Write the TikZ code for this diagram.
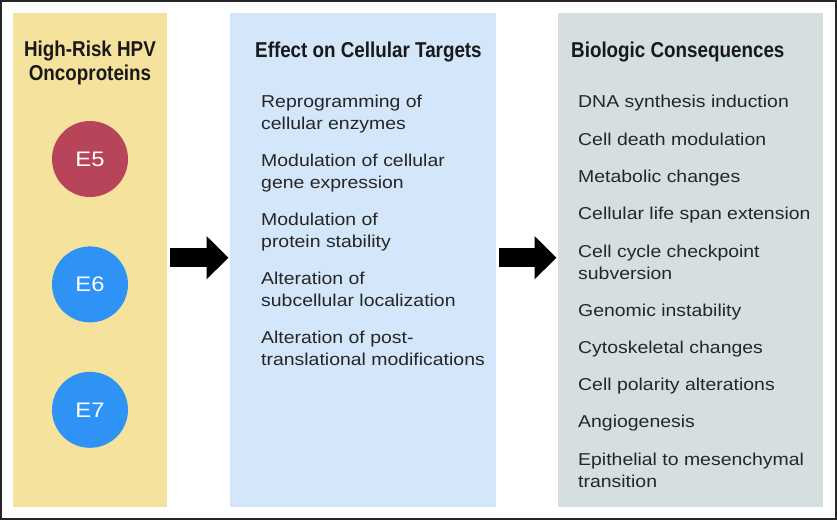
\documentclass[tikz,border=0pt]{standalone}
\usepackage{fontspec}
\setmainfont{Liberation Sans}
\newfontfamily\headfont{Liberation Sans Bold}[FakeStretch=0.875]
\newfontfamily\bodyfont{Liberation Sans}[FakeStretch=1.13]
\usetikzlibrary{arrows.meta}
\usetikzlibrary{positioning}
\definecolor{hpvyellow}{HTML}{F5E29C}
\definecolor{targetblue}{HTML}{D3E6FA}
\definecolor{biogray}{HTML}{D5DFE0}
\definecolor{esred}{HTML}{B8445A}
\definecolor{esblue}{HTML}{2F93F6}
\tikzstyle{panel} = [rectangle, inner sep=0pt, minimum height=494pt, anchor=north west]
\tikzstyle{heading} = [inner sep=0pt, anchor=base west, font=\headfont\fontsize{21.5}{24}\selectfont, text=black!90]
\tikzstyle{item} = [inner sep=0pt, anchor=base west, align=left, font=\bodyfont\fontsize{17.2}{22}\selectfont, text=black!85]
\tikzstyle{oncoprotein} = [circle, minimum size=76pt, inner sep=0pt, text=white, font=\bodyfont\fontsize{21}{21}\selectfont]
\tikzstyle{bigarrow} = [line width=18.5pt, -{Triangle[length=22pt, width=42pt]}, shorten <=2.5pt, shorten >=1.5pt]

\begin{document}
\begin{tikzpicture}[x=1pt, y=-1pt]
 \useasboundingbox (0,0) rectangle (837,520);
 \draw[line width=1.6pt, black!85] (0.8,0.8) rectangle (836.2,519.2);

 % the three columns
 \node (hpv) [panel, fill=hpvyellow, minimum width=154pt] at (13,12.5) {};
 \node (tgt) [panel, fill=targetblue, minimum width=266pt] at (230,12.5) {};
 \node (bio) [panel, fill=biogray, minimum width=265pt] at (558,12.5) {};

 % (base of a two-line node = its last line)
 \node (hpvhead) [heading, anchor=base, align=center] at (90,80) {High-Risk HPV\\Oncoproteins};
 \node (tgthead) [heading] at (255,57) {Effect on Cellular Targets};
 \node (biohead) [heading] at (571,57) {Biologic Consequences};

 % oncoproteins
 \node (e5) [oncoprotein, fill=esred] at (90,159) {E5};
 \node (e6) [oncoprotein, fill=esblue, below=49pt of e5] {E6};
 \node (e7) [oncoprotein, fill=esblue, below=49pt of e6] {E7};

 % cellular targets
 \node (tgt1) [item] at (261,129) {Reprogramming of\\cellular enzymes};
 \node (tgt2) [item] at (261,188) {Modulation of cellular\\gene expression};
 \node (tgt3) [item] at (261,247) {Modulation of\\protein stability};
 \node (tgt4) [item] at (261,306) {Alteration of\\subcellular localization};
 \node (tgt5) [item] at (261,365) {Alteration of post-\\translational modifications};

 % consequences
 \node (bio1) [item] at (578,107) {DNA synthesis induction};
 \node (bio2) [item] at (578,145) {Cell death modulation};
 \node (bio3) [item] at (578,182) {Metabolic changes};
 \node (bio4) [item] at (578,219) {Cellular life span extension};
 \node (bio5) [item] at (578,279) {Cell cycle checkpoint\\subversion};
 \node (bio6) [item] at (578,316) {Genomic instability};
 \node (bio7) [item] at (578,353) {Cytoskeletal changes};
 \node (bio8) [item] at (578,390) {Cell polarity alterations};
 \node (bio9) [item] at (578,427) {Angiogenesis};
 \node (bio10) [item] at (578,487) {Epithelial to mesenchymal\\transition};

 \draw[bigarrow] ([yshift=2pt]hpv.east) -- ([yshift=2pt]tgt.west);
 \draw[bigarrow] ([yshift=2pt]tgt.east) -- ([yshift=2pt]bio.west);
\end{tikzpicture}
\end{document}
